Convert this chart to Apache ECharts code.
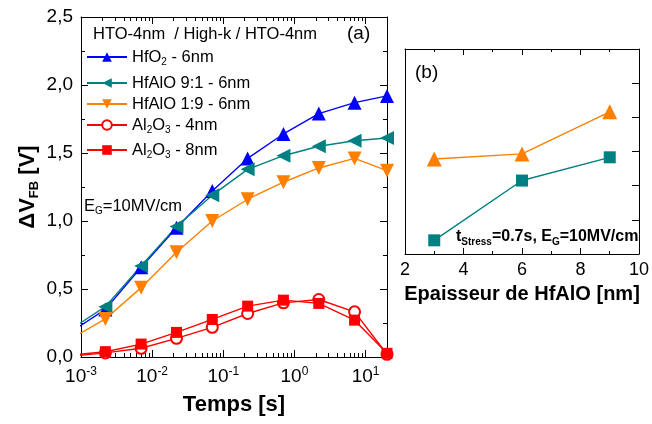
<!DOCTYPE html>
<html><head><meta charset="utf-8">
<script src="https://cdn.jsdelivr.net/npm/echarts@6/dist/echarts.min.js"></script>
<style>html,body{margin:0;padding:0;background:#fff}#c{width:652px;height:424px}</style>
</head><body><div id="c"></div>
<script>
// ---------- data (main panel a) ----------
const timeS      = [0.0007, 0.0022, 0.007, 0.022, 0.07, 0.22, 0.7, 2.2, 7, 20];
const hfo2_6nm   = [0.18, 0.35, 0.66, 0.95, 1.22, 1.46, 1.64, 1.79, 1.87, 1.92];
const hfalo91_6nm= [0.20, 0.37, 0.67, 0.96, 1.19, 1.38, 1.48, 1.55, 1.59, 1.61];
const hfalo19_6nm= [0.13, 0.28, 0.51, 0.77, 1.00, 1.16, 1.285, 1.39, 1.46, 1.37];
const al2o3_4nm  = [0.005, 0.03, 0.064, 0.137, 0.218, 0.32, 0.398, 0.423, 0.332, 0.02];
const al2o3_8nm  = [0.012, 0.039, 0.095, 0.181, 0.276, 0.374, 0.418, 0.394, 0.271, 0.027];
const seriesNames = ['HfO2 - 6nm', 'HfAlO 9:1 - 6nm', 'HfAlO 1:9 - 6nm', 'Al2O3 - 4nm', 'Al2O3 - 8nm'];
const legendLabels = ['HfO{sub|2} - 6nm', 'HfAlO 9:1 - 6nm', 'HfAlO 1:9 - 6nm', 'Al{sub|2}O{sub|3} - 4nm', 'Al{sub|2}O{sub|3} - 8nm'];
const xMajorTicks = [0.001, 0.01, 0.1, 1, 10];
const xTickLabels = ['10{s|-3}', '10{s|-2}', '10{s|-1}', '10{s|0}', '10{s|1}'];
const xMinorTicks = [0.002,0.003,0.004,0.005,0.006,0.007,0.008,0.009,
                     0.02,0.03,0.04,0.05,0.06,0.07,0.08,0.09,
                     0.2,0.3,0.4,0.5,0.6,0.7,0.8,0.9,
                     2,3,4,5,6,7,8,9];
// ---------- data (inset panel b) ----------
const thicknessNm   = [3, 6, 9];
const insetOrange   = [2.78, 2.93, 4.16];
const insetTeal     = [0.40, 2.15, 2.83];
const insetXLabels  = [2, 4, 6, 8, 10];

const FONT = '"Liberation Sans", Arial, sans-serif';
const BLK = '#000';
const zip = (a, b) => a.map((v, i) => [v, b[i]]);

function xLog(pos, vals, len, showLine, labels) {
  return {
    type: 'log', logBase: 10, gridIndex: 0, position: pos, min: 0.001, max: 20,
    axisLine: {show: showLine, onZero: false, lineStyle: {color: BLK, width: 1}},
    axisTick: {show: true, inside: true, length: len, customValues: vals, lineStyle: {color: BLK}},
    axisLabel: labels ? {
      show: true, customValues: xMajorTicks, margin: 9, color: BLK,
      formatter: v => xTickLabels[xMajorTicks.findIndex(t => Math.abs(Math.log10(t) - Math.log10(v)) < 1e-6)],
      fontFamily: FONT, fontSize: 19, lineHeight: 22,
      rich: {s: {fontSize: 12, lineHeight: 12, verticalAlign: 'top', fontFamily: FONT, color: BLK}}
    } : {show: false},
    splitLine: {show: false}, minorSplitLine: {show: false}
  };
}
function yMain(pos, labels) {
  return {
    type: 'value', gridIndex: 0, position: pos, min: 0, max: 2.5, interval: 0.5,
    axisLine: {show: true, onZero: false, lineStyle: {color: BLK, width: 1}},
    axisTick: {show: true, inside: true, length: 7, lineStyle: {color: BLK}},
    minorTick: {show: true, splitNumber: 2, length: 4, lineStyle: {color: BLK}},
    axisLabel: labels ? {show: true, margin: 8, color: BLK, fontFamily: FONT, fontSize: 19,
      formatter: v => v.toFixed(1).replace('.', ',')} : {show: false},
    splitLine: {show: false}, minorSplitLine: {show: false}
  };
}
function xInset(pos, labels) {
  return {
    type: 'value', gridIndex: 1, position: pos, min: 2, max: 10, interval: 2,
    axisLine: {show: true, onZero: false, lineStyle: {color: BLK, width: 1}},
    axisTick: {show: true, inside: true, length: 6, lineStyle: {color: BLK}},
    minorTick: {show: true, splitNumber: 2, length: 3, lineStyle: {color: BLK}},
    axisLabel: labels ? {show: true, margin: 7, color: BLK, fontFamily: FONT, fontSize: 18,
      formatter: v => String(insetXLabels[insetXLabels.indexOf(v)])} : {show: false},
    splitLine: {show: false}, minorSplitLine: {show: false},
    name: labels ? 'Epaisseur de HfAlO [nm]' : '', nameLocation: 'middle', nameGap: 30,
    nameTextStyle: {fontFamily: FONT, fontSize: 20, fontWeight: 'bold', color: BLK}
  };
}
function yInset(pos, ticks) {
  return {
    type: 'value', gridIndex: 1, position: pos, min: 0, max: 6, interval: 1,
    axisLine: {show: true, onZero: false, lineStyle: {color: BLK, width: 1}},
    axisTick: {show: ticks, inside: true, length: 7, lineStyle: {color: BLK}},
    axisLabel: {show: false}, splitLine: {show: false}
  };
}

const xAxisBottom = xLog('bottom', xMajorTicks, 7, true, true);
xAxisBottom.name = 'Temps [s]';
xAxisBottom.nameLocation = 'middle';
xAxisBottom.nameGap = 37;
xAxisBottom.nameTextStyle = {fontFamily: FONT, fontSize: 22, fontWeight: 'bold', color: BLK};

const yLeft = yMain('left', true);
yLeft.name = 'ΔV{sub|FB} [V]';
yLeft.nameLocation = 'middle';
yLeft.nameGap = 40;
yLeft.nameTextStyle = {fontFamily: FONT, fontSize: 22, fontWeight: 'bold', color: BLK, lineHeight: 26,
  rich: {sub: {fontFamily: FONT, fontSize: 13, fontWeight: 'bold', color: BLK, lineHeight: 12, verticalAlign: 'bottom'}}};

const subRich = {sub: {fontFamily: FONT, fontSize: 10, lineHeight: 9, verticalAlign: 'bottom', color: BLK}};

const colors = ['#0000ff', '#008080', '#ff8000', '#ff0000', '#ff0000'];
const symbols = ['triangle', 'triangle', 'triangle', 'emptyCircle', 'rect'];
const rotations = [0, 90, 180, 0, 0];
const sizes = [14, 14, 14, 11, 11];
const mainData = [hfo2_6nm, hfalo91_6nm, hfalo19_6nm, al2o3_4nm, al2o3_8nm];
const legendCenters = [57, 83, 104, 125, 150];

const mainSeries = mainData.map((vals, i) => ({
  name: seriesNames[i], type: 'line', xAxisIndex: 0, yAxisIndex: 0,
  data: zip(timeS, vals), clip: true,
  color: colors[i], symbol: symbols[i], symbolSize: sizes[i], symbolRotate: rotations[i],
  showAllSymbol: true,
  lineStyle: {color: colors[i], width: 1.4},
  itemStyle: i === 3 ? {color: colors[i], borderColor: colors[i], borderWidth: 2} : {color: colors[i]},
  emphasis: {disabled: true}, animation: false, z: 3
}));

const insetSeries = [
  {name: 'inset-orange', type: 'line', xAxisIndex: 4, yAxisIndex: 2, data: zip(thicknessNm, insetOrange),
   symbol: 'triangle', symbolSize: 15, color: '#ff8000', lineStyle: {color: '#ff8000', width: 1.4},
   itemStyle: {color: '#ff8000'}, emphasis: {disabled: true}, animation: false},
  {name: 'inset-teal', type: 'line', xAxisIndex: 4, yAxisIndex: 2, data: zip(thicknessNm, insetTeal),
   symbol: 'rect', symbolSize: 12, color: '#008080', lineStyle: {color: '#008080', width: 1.4},
   itemStyle: {color: '#008080'}, emphasis: {disabled: true}, animation: false}
];

const option = {
  backgroundColor: '#fff',
  animation: false,
  textStyle: {fontFamily: FONT},
  grid: [
    {left: 81, top: 17, width: 306, height: 340, containLabel: false},
    {left: 405, top: 49, width: 239, height: 205, containLabel: false}
  ],
  xAxis: [
    xAxisBottom,
    xLog('bottom', xMinorTicks, 4, false, false),
    xLog('top', xMajorTicks, 7, true, false),
    xLog('top', xMinorTicks, 4, false, false),
    xInset('bottom', true),
    xInset('top', false)
  ],
  yAxis: [
    yLeft,
    yMain('right', false),
    yInset('left', false),
    yInset('right', true)
  ],
  legend: seriesNames.map((n, i) => ({
    data: [n], left: 86, top: legendCenters[i] - 10, padding: 0, itemWidth: 40, itemHeight: 12,
    selectedMode: false, orient: 'vertical',
    formatter: () => legendLabels[i],
    textStyle: {fontFamily: FONT, fontSize: 16.5, color: BLK, lineHeight: 20, rich: subRich}
  })),
  graphic: [
    {type: 'text', left: 93, top: 26, style: {text: 'HTO-4nm  / High-k / HTO-4nm', fontFamily: FONT, fontSize: 16.5, fill: BLK}},
    {type: 'text', left: 347, top: 24, style: {text: '(a)', fontFamily: FONT, fontSize: 19, fill: BLK}},
    {type: 'text', left: 84, top: 196, style: {text: 'E{sub|G}=10MV/cm', fontFamily: FONT, fontSize: 16.5, lineHeight: 20, fill: BLK, rich: subRich}},
    {type: 'text', left: 415, top: 63, style: {text: '(b)', fontFamily: FONT, fontSize: 19, fill: BLK}},
    {type: 'text', left: 456, top: 227, style: {text: 't{sub|Stress}=0.7s, E{sub|G}=10MV/cm', fontFamily: FONT, fontSize: 16, fontWeight: 'bold', lineHeight: 20, fill: BLK,
      rich: {sub: {fontFamily: FONT, fontSize: 10, fontWeight: 'bold', lineHeight: 9, verticalAlign: 'bottom', fill: BLK}}}}
  ],
  series: mainSeries.concat(insetSeries)
};

const chart = echarts.init(document.getElementById('c'), null, {renderer: 'canvas'});
chart.setOption(option);
</script>
</body></html>
